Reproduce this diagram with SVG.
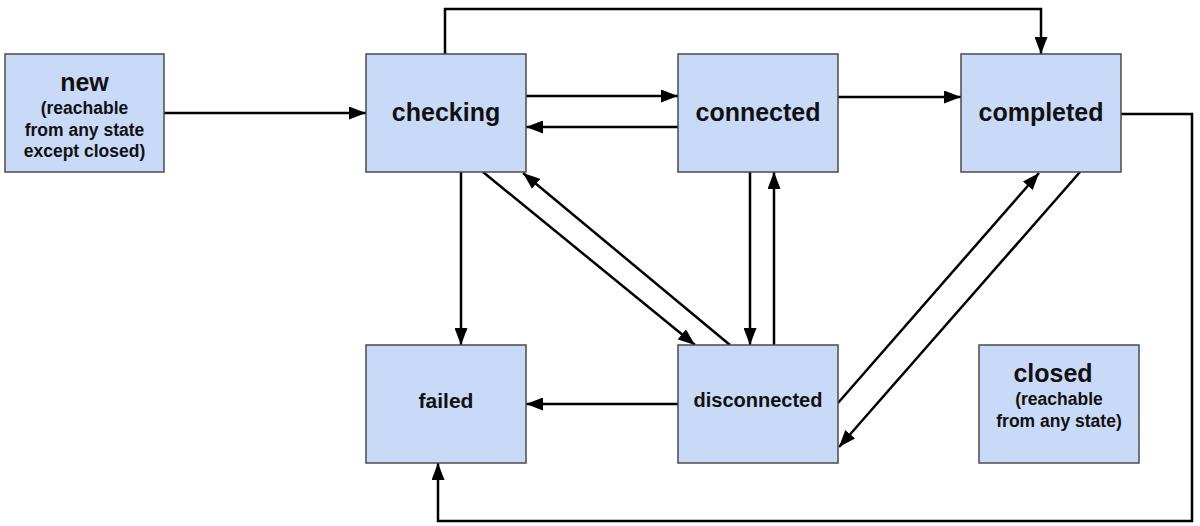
<svg xmlns="http://www.w3.org/2000/svg" width="1200" height="526" viewBox="0 0 1200 526">
<defs>
<marker id="arr" markerUnits="userSpaceOnUse" markerWidth="18" markerHeight="13" refX="17" refY="6.5" orient="auto">
<path d="M0,0 L17,6.5 L0,13 z" fill="#000"/>
</marker>
<style>
.box{fill:#c9daf8;stroke:#4a4a4a;stroke-width:1.5}
.t{font-family:"Liberation Sans",Arial,sans-serif;font-weight:bold;fill:#111;text-anchor:middle}
.big{font-size:25px}
.sm{font-size:17.5px}
.c{fill:none;stroke:#000;stroke-width:2.5}
.a{marker-end:url(#arr)}
</style>
</defs>
<rect width="1200" height="526" fill="#fff"/>
<g id="connectors">
<line class="c a" x1="164" y1="113" x2="366" y2="113"/>
<line class="c a" x1="526" y1="96" x2="678" y2="96"/>
<line class="c a" x1="678" y1="127" x2="526" y2="127"/>
<line class="c a" x1="838" y1="97" x2="961" y2="97"/>
<polyline class="c a" points="445,54 445,9 1041,9 1041,54"/>
<polyline class="c a" points="1121,114 1192,114 1192,521 438,521 438,463"/>
<line class="c a" x1="461" y1="172" x2="461" y2="345"/>
<line class="c a" x1="483" y1="172" x2="695" y2="345"/>
<line class="c a" x1="730" y1="345" x2="523" y2="173"/>
<line class="c a" x1="750" y1="172" x2="750" y2="345"/>
<line class="c a" x1="774" y1="345" x2="774" y2="172"/>
<line class="c a" x1="838" y1="403" x2="1039" y2="173"/>
<line class="c a" x1="1080" y1="172" x2="839" y2="447"/>
<line class="c a" x1="678" y1="404" x2="526" y2="404"/>
</g>
<g id="new">
<rect class="box" x="5" y="54" width="159" height="118"/>
<text class="t big" x="84.5" y="91">new</text>
<text class="t sm" x="84.5" y="114">(reachable</text>
<text class="t sm" x="84.5" y="136">from any state</text>
<text class="t sm" x="84.5" y="157">except closed)</text>
</g>
<g id="checking">
<rect class="box" x="366" y="54" width="160" height="118"/>
<text class="t big" x="446" y="121">checking</text>
</g>
<g id="connected">
<rect class="box" x="678" y="54" width="160" height="118"/>
<text class="t big" x="758" y="121">connected</text>
</g>
<g id="completed">
<rect class="box" x="961" y="54" width="160" height="118"/>
<text class="t big" x="1041" y="121">completed</text>
</g>
<g id="failed">
<rect class="box" x="366" y="345" width="160" height="118"/>
<text class="t" style="font-size:21px" x="446" y="408">failed</text>
</g>
<g id="disconnected">
<rect class="box" x="678" y="345" width="160" height="118"/>
<text class="t" style="font-size:20px" x="758" y="407">disconnected</text>
</g>
<g id="closed">
<rect class="box" x="979" y="345" width="160" height="118"/>
<text class="t big" x="1053" y="382">closed</text>
<text class="t sm" x="1059" y="405">(reachable</text>
<text class="t sm" x="1059" y="427">from any state)</text>
</g>
</svg>
